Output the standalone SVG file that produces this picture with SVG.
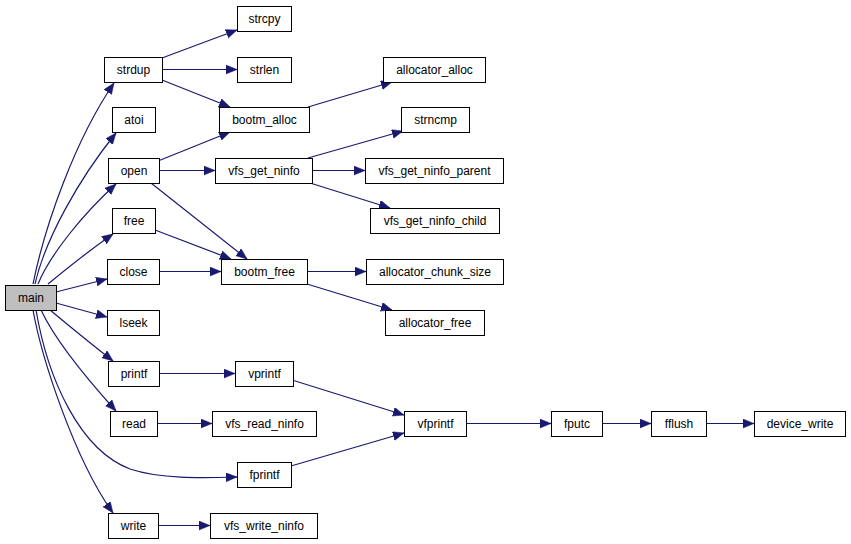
<svg xmlns="http://www.w3.org/2000/svg" width="851" height="544" viewBox="0 0 851 544">
<style>
.n rect{fill:#fff;stroke:#000;stroke-width:1}
.n text{font-family:"Liberation Sans",Arial,sans-serif;font-size:12px;text-anchor:middle;fill:#000}
#main rect{fill:#bfbfbf}
.e path{fill:none;stroke:#191970;stroke-width:1.2;marker-end:url(#ah)}
</style>
<defs>
<marker id="ah" markerUnits="userSpaceOnUse" markerWidth="12" markerHeight="10" refX="11" refY="4.5" orient="auto">
<path d="M0,0 L11,4.5 L0,9 z" fill="#191970" stroke="#191970" stroke-width="0.5"/>
</marker>
</defs>
<rect width="851" height="544" fill="#fff"/>
<g class="e" id="edges">
<path d="M33,284 C45,225 75,140 114,83"/>
<path d="M35,284 C45,240 78,180 116,133"/>
<path d="M38,284 C50,255 82,215 116,184"/>
<path d="M48,284 C65,270 90,250 113,234"/>
<path d="M56,292 L107,279"/>
<path d="M56,303 L107,317"/>
<path d="M50,310 C68,325 90,343 113,361"/>
<path d="M41,310 C55,340 88,380 116,411"/>
<path d="M36,310 C48,380 80,450 130,469 C160,479 200,478 237,477"/>
<path d="M33,310 C42,360 75,460 113,513"/>
<path d="M162,58 L237,30"/>
<path d="M162,69.5 L237,69.5"/>
<path d="M162,80 L230,107"/>
<path d="M158,161 L230,132"/>
<path d="M159,170.5 L215,170.5"/>
<path d="M151,183 L247,259"/>
<path d="M155,230 L231,259"/>
<path d="M159,271.5 L221,271.5"/>
<path d="M308,107 L392,82"/>
<path d="M308,158 L403,131"/>
<path d="M312,170.5 L365,170.5"/>
<path d="M310,183 L390,208"/>
<path d="M307,271.5 L366,271.5"/>
<path d="M307,284 L392,310"/>
<path d="M159,373.5 L235,373.5"/>
<path d="M157,423.5 L212,423.5"/>
<path d="M158,525.5 L210,525.5"/>
<path d="M292,380 L404,415"/>
<path d="M291,466 L404,433"/>
<path d="M466,423.5 L551,423.5"/>
<path d="M602,423.5 L651,423.5"/>
<path d="M706,423.5 L754,423.5"/>
</g>
<g class="n" id="main"><rect x="5.5" y="285.5" width="51" height="25"/><text x="31" y="302">main</text></g>
<g class="n" id="strdup"><rect x="104.5" y="57.5" width="58" height="25"/><text x="133.5" y="74">strdup</text></g>
<g class="n" id="atoi"><rect x="112.5" y="107.5" width="43" height="25"/><text x="134" y="124">atoi</text></g>
<g class="n" id="open"><rect x="108.5" y="158.5" width="51" height="25"/><text x="134" y="175">open</text></g>
<g class="n" id="free"><rect x="112.5" y="208.5" width="43" height="25"/><text x="134" y="225">free</text></g>
<g class="n" id="close"><rect x="107.5" y="259.5" width="52" height="25"/><text x="133.5" y="276">close</text></g>
<g class="n" id="lseek"><rect x="107.5" y="310.5" width="52" height="25"/><text x="133.5" y="327">lseek</text></g>
<g class="n" id="printf"><rect x="108.5" y="361.5" width="51" height="25"/><text x="134" y="378">printf</text></g>
<g class="n" id="read"><rect x="110.5" y="411.5" width="47" height="25"/><text x="134" y="428">read</text></g>
<g class="n" id="write"><rect x="108.5" y="513.5" width="50" height="25"/><text x="133.5" y="530">write</text></g>
<g class="n" id="strcpy"><rect x="237.5" y="6.5" width="54" height="25"/><text x="264.5" y="23">strcpy</text></g>
<g class="n" id="strlen"><rect x="237.5" y="57.5" width="54" height="25"/><text x="264.5" y="74">strlen</text></g>
<g class="n" id="bootm_alloc"><rect x="219.5" y="107.5" width="90" height="25"/><text x="264.5" y="124">bootm_alloc</text></g>
<g class="n" id="vfs_get_ninfo"><rect x="215.5" y="158.5" width="97" height="25"/><text x="264" y="175">vfs_get_ninfo</text></g>
<g class="n" id="bootm_free"><rect x="221.5" y="259.5" width="86" height="25"/><text x="264.5" y="276">bootm_free</text></g>
<g class="n" id="vprintf"><rect x="235.5" y="361.5" width="58" height="25"/><text x="264.5" y="378">vprintf</text></g>
<g class="n" id="vfs_read_ninfo"><rect x="212.5" y="411.5" width="104" height="25"/><text x="264.5" y="428">vfs_read_ninfo</text></g>
<g class="n" id="fprintf"><rect x="237.5" y="462.5" width="54" height="25"/><text x="264.5" y="479">fprintf</text></g>
<g class="n" id="vfs_write_ninfo"><rect x="210.5" y="513.5" width="107" height="25"/><text x="264" y="530">vfs_write_ninfo</text></g>
<g class="n" id="allocator_alloc"><rect x="383.5" y="57.5" width="102" height="25"/><text x="434.5" y="74">allocator_alloc</text></g>
<g class="n" id="strncmp"><rect x="401.5" y="107.5" width="68" height="25"/><text x="435.5" y="124">strncmp</text></g>
<g class="n" id="vfs_get_ninfo_parent"><rect x="365.5" y="158.5" width="138" height="25"/><text x="434.5" y="175">vfs_get_ninfo_parent</text></g>
<g class="n" id="vfs_get_ninfo_child"><rect x="370.5" y="208.5" width="129" height="25"/><text x="435" y="225">vfs_get_ninfo_child</text></g>
<g class="n" id="allocator_chunk_size"><rect x="366.5" y="259.5" width="137" height="25"/><text x="435" y="276">allocator_chunk_size</text></g>
<g class="n" id="allocator_free"><rect x="385.5" y="310.5" width="99" height="25"/><text x="435" y="327">allocator_free</text></g>
<g class="n" id="vfprintf"><rect x="404.5" y="411.5" width="62" height="25"/><text x="435.5" y="428">vfprintf</text></g>
<g class="n" id="fputc"><rect x="551.5" y="411.5" width="51" height="25"/><text x="577" y="428">fputc</text></g>
<g class="n" id="fflush"><rect x="651.5" y="411.5" width="55" height="25"/><text x="679" y="428">fflush</text></g>
<g class="n" id="device_write"><rect x="754.5" y="411.5" width="91" height="25"/><text x="800" y="428">device_write</text></g>
</svg>
